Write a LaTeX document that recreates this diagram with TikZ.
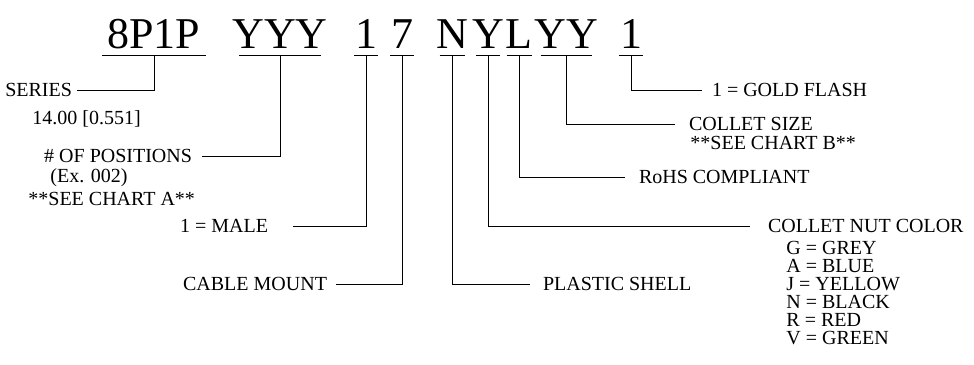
\documentclass[tikz,border=0pt]{standalone}
\usepackage{fontspec}
\setmainfont{Liberation Serif}
\usetikzlibrary{positioning}

\begin{document}
\begin{tikzpicture}[x=1pt, y=1pt, line width=0.8pt,
  code/.style={font=\fontsize{44}{48}\selectfont, inner sep=0pt, anchor=base},
  lbl/.style={font=\fontsize{20}{22}\selectfont, inner sep=0pt},
  lblr/.style={lbl, anchor=west, outer xsep=#1},
  lbll/.style={lbl, anchor=east, outer xsep=#1}]
\useasboundingbox (0,0) rectangle (974,-364);
% part number, one underlined field each
\foreach \n/\x/\w/\t in {a/154/52/8P1P, b/280/41/YYY, c/366/12/1, d/402/12/7, e/452/12.5/N, f/488/12/Y, g/519/12.5/L, h/566/25.5/YY, i/631/12/1}{
  \node[code] (\n) at (\x,-48) {\t};
  \draw (\x-\w,-55) -- (\x+\w,-55);
  \coordinate (\n0) at (\x,-55);
}
\node[lbll=5pt] (series) at (77,-90) {SERIES};
\node[lbl, anchor=base west] (seriessize) at (32,-124) {14.00 [0.551]};
\node[lbll=10pt] (positions) at (202,-156) {\# OF POSITIONS};
\node[lbl, anchor=base west] (posex) at (50,-182) {(Ex. 002)};
\node[lbl, anchor=base west] (chartA) at (28,-205) {**SEE CHART A**};
\node[lbll=25pt] (male) at (293,-226) {1 = MALE};
\node[lbll=9pt] (cable) at (336,-284) {CABLE MOUNT};
\node[lblr=13pt] (shell) at (530,-284) {PLASTIC SHELL};
\node[lblr=18pt] (nut) at (750,-226) {COLLET NUT COLOR};
\node[lbl, font=\fontsize{20}{18}\selectfont, align=left, anchor=north west] (colors) at (786,-241)
  {G = GREY\\ A = BLUE\\ J = YELLOW\\ N = BLACK\\ R = RED\\ V = GREEN};
\node[lblr=14pt] (rohs) at (625,-177) {RoHS COMPLIANT};
\node[lblr=14pt] (collet) at (675,-124) {COLLET SIZE};
\node[lbl, anchor=base west] (chartB) at (690,-149) {**SEE CHART B**};
\node[lblr=10pt] (gold) at (702,-90) {1 = GOLD FLASH};
% leader lines
\draw (a0) |- (series);
\draw (b0) |- (positions);
\draw (c0) |- (male);
\draw (d0) |- (cable);
\draw (e0) |- (shell);
\draw (f0) |- (nut);
\draw (g0) |- (rohs);
\draw (h0) |- (collet);
\draw (i0) |- (gold);
\end{tikzpicture}
\end{document}
